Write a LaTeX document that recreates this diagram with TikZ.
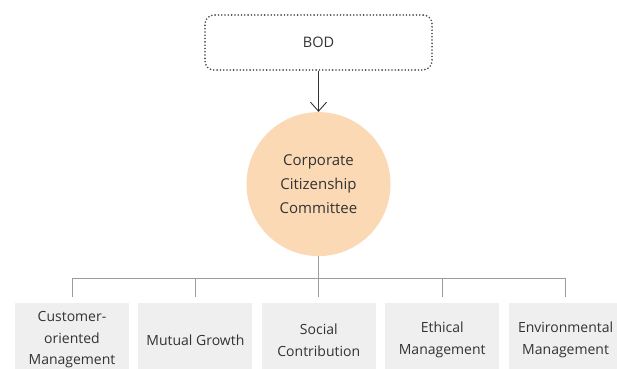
\documentclass[tikz,border=0pt]{standalone}
\usepackage{fontspec}
\setmainfont{Open Sans}
\usetikzlibrary{positioning}
\usetikzlibrary{arrows.meta}

\definecolor{txtgray}{HTML}{333333}
\definecolor{linegray}{HTML}{9C9C9C}
\definecolor{peach}{HTML}{FBD9B5}
\definecolor{boxgray}{HTML}{EFEFEF}

\tikzset{
	unit/.style={fill=boxgray, minimum width=114pt, minimum height=74pt,
		inner sep=2pt, align=center, text=txtgray,
		font=\fontsize{14}{21.5}\selectfont},
	tree/.style={draw=linegray, line width=0.9pt}
}

\begin{document}
\begin{tikzpicture}[x=1pt,y=-1pt]
		\clip (0,0) rectangle (617,368);
		
		%BOD block
		\node[draw=txtgray!90,
		      line width=1.8pt,
		      dash pattern=on 0pt off 3.3pt,
		      line cap=round,
		      rounded corners=9pt,
		      minimum width=227pt,
		      minimum height=55pt,
		      text=txtgray,
		      font=\fontsize{14.5}{16}\selectfont] (BOD) at (318.5,42.5){BOD};
		
		%Committee
		\node[circle,
		      fill=peach,
		      minimum size=144pt,
		      align=center,
		      text=txtgray,
		      font=\fontsize{15}{24}\selectfont,
		      below=41pt of BOD] (committee){Corporate\\Citizenship\\Committee};
		
		\draw[-{Straight Barb[length=9pt,width=16pt,line width=0.9pt]}, line width=0.9pt, txtgray] (BOD.south) -- (committee.north);
		
		%Units
		\node[unit] (customer) at (72,340){Customer-\\oriented\\Management};
		\node[unit, right=9pt of customer] (growth){Mutual Growth};
		\node[unit, right=9pt of growth] (social){Social\\Contribution};
		\node[unit, right=9pt of social] (ethical){Ethical\\Management};
		\node[unit, right=9pt of ethical] (environ){Environmental\\Management};
		
		%Tree lines
		\coordinate (bus) at (committee.south |- 0,278);
		\draw[tree] (committee.south) -- (bus);
		\foreach \u in {customer, growth, social, ethical, environ}
			\draw[tree] ([yshift=6pt]\u.north) |- (bus);
	\end{tikzpicture}
\end{document}
